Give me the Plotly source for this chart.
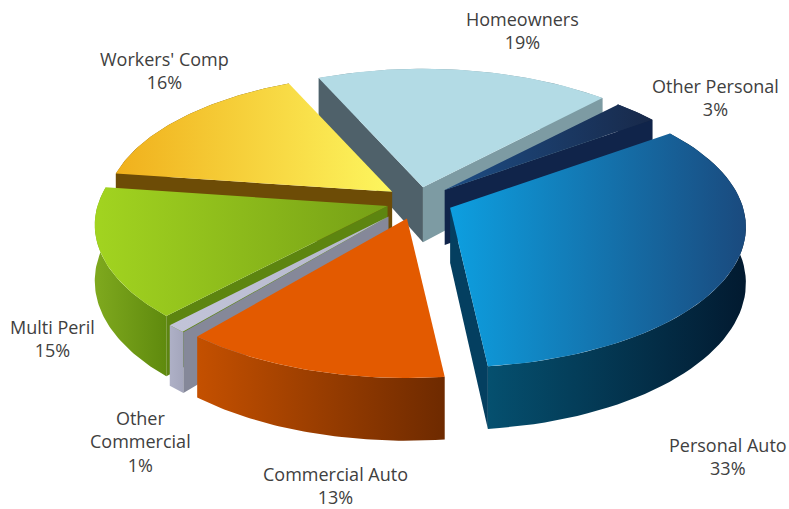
import numpy as np
import plotly.graph_objects as go

# --- data ---
categories = ["Homeowners", "Other Personal", "Personal Auto", "Commercial Auto",
              "Other Commercial", "Multi Peril", "Workers' Comp"]
shares = [19, 3, 33, 13, 1, 15, 16]
label_texts = ["Homeowners", "Other Personal", "Personal Auto", "Commercial Auto",
               "Other<br>Commercial", "Multi Peril", "Workers' Comp"]

# --- styling and layout (not data) ---
start_angle = -24.5
pulls = [0.10, 0.12, 0.12, 0.13, 0.15, 0.11, 0.11]
radius_scale = [0.98, 0.94, 1.0, 1.0, 0.98, 0.99, 0.97]
top_colors = [("#b3dbe5", "#b3dbe5"), ("#1d4d85", "#18294a"), ("#0d9fe0", "#1a4a7e"),
              ("#e35a00", "#e35a00"), ("#c2c4d8", "#b4b6cc"), ("#a2d420", "#76a016"),
              ("#f0b01c", "#fdf65f")]
rim_colors = [("#7d9ba3", "#7d9ba3"), ("#12264a", "#10203c"), ("#05506f", "#021a30"),
              ("#c45000", "#6e2a00"), ("#aeb0c6", "#a4a6bc"), ("#7fa91e", "#5f8a0e"),
              ("#6d4c06", "#6d4c06")]
start_face = ["#4f616a", "#1a3460", "#043f60", "#c45000", "#858899", "#5d8510", "#6d4c06"]
end_face = ["#7d9ba3", "#10244a", "#043f60", "#c45000", "#858899", "#5d8510", "#6d4c06"]
label_pos = [(522, 30), (715, 97), (728, 456), (335, 485), (140, 441), (52, 338), (164, 70)]
draw_order = [0, 1, 6, 5, 2, 4, 3]
text_color = "#404040"

CX, CY, R, RQ, K, DEPTH = 418.0, 201.0, 293.0, 140.0, 0.14, 55.0


def project(a_deg, radius=1.0):
    a = np.radians(a_deg)
    u, v = np.sin(a) * radius, -np.cos(a) * radius
    s = 1 + K * v
    return R * u * s, RQ * v * s, s


def poly(xs, ys, cols):
    kw = dict(x=list(xs) + [xs[0]], y=list(ys) + [ys[0]], mode="lines", fill="toself",
              line=dict(width=0), hoverinfo="skip", showlegend=False, fillcolor=cols[0])
    if cols[0] != cols[1]:
        kw["fillgradient"] = dict(type="horizontal", colorscale=[[0, cols[0]], [1, cols[1]]])
    return go.Scatter(**kw)


fig = go.Figure()
total = sum(shares)
spans = [s / total * 360 for s in shares]
starts = [start_angle + sum(spans[:i]) for i in range(len(spans))]

for i in draw_order:
    a0, a1 = starts[i], starts[i] + spans[i]
    mid = (a0 + a1) / 2
    m = np.radians(mid)
    ax = CX + pulls[i] * R * np.sin(m)
    ay = CY - pulls[i] * RQ * np.cos(m)
    angles = np.linspace(a0, a1, 60)
    pts = [project(t, radius_scale[i]) for t in angles]
    ex = np.array([ax + p[0] for p in pts])
    ey = np.array([ay + p[1] for p in pts])
    ss = np.array([p[2] for p in pts])
    mx, my, _ = project(mid, radius_scale[i])
    fig.add_trace(poly(list(ex) + list(ex[::-1]),
                       list(ey) + list((ey + DEPTH * ss)[::-1]), rim_colors[i]))
    for (px, py, ps, col) in ((ex[0], ey[0], ss[0], start_face[i]), (ex[-1], ey[-1], ss[-1], end_face[i])):
        dx, dy = px - ax, py - ay
        side_mid = dx * my - dy * mx
        if side_mid * dx < 0:
            fig.add_trace(poly([ax, px, px, ax], [ay, py, py + DEPTH * ps, ay + DEPTH],
                               (col, col)))
    fig.add_trace(poly([ax] + list(ex), [ay] + list(ey), top_colors[i]))

for name, share, (lx, ly) in zip(label_texts, shares, label_pos):
    fig.add_annotation(x=lx, y=ly, xref="x", yref="y", text=f"{name}<br>{share}%", showarrow=False,
                       xanchor="center", yanchor="middle",
                       font=dict(family="Open Sans", size=18, color=text_color), align="center")

fig.update_layout(width=789, height=509, margin=dict(l=0, r=0, t=0, b=0),
                  paper_bgcolor="white", plot_bgcolor="white", showlegend=False,
                  xaxis=dict(range=[0, 789], visible=False, fixedrange=True),
                  yaxis=dict(range=[509, 0], visible=False, fixedrange=True))
fig.write_html("out.html", config={"displayModeBar": False},
               post_script="document.body.style.margin='0';document.body.style.overflow='hidden';")
